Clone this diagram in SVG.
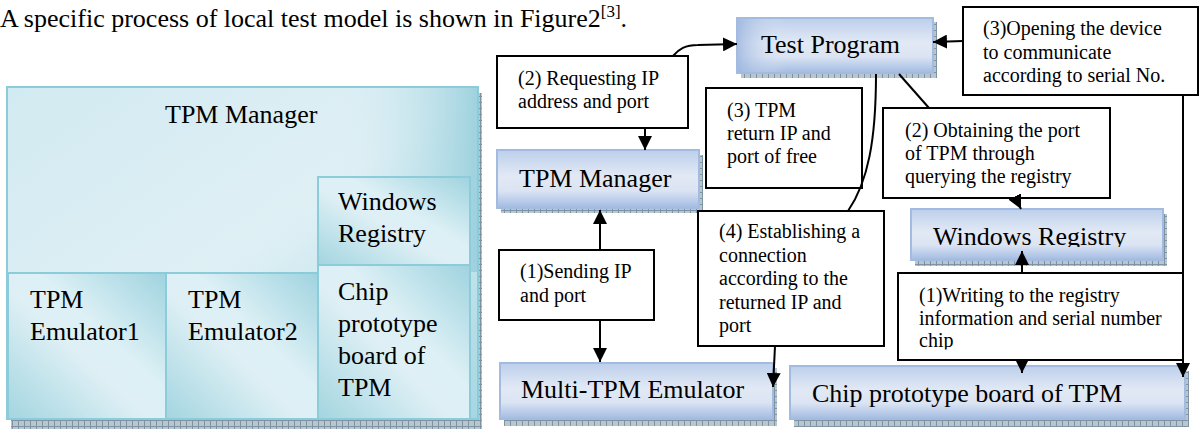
<svg xmlns="http://www.w3.org/2000/svg" width="1199" height="429" viewBox="0 0 1199 429">
  <defs>
    <linearGradient id="gTop" x1="0" y1="0" x2="1" y2="1">
      <stop offset="0" stop-color="#d2eaf1"/>
      <stop offset="0.5" stop-color="#dff0f5"/>
      <stop offset="1" stop-color="#a6d6e1"/>
    </linearGradient>
    <linearGradient id="gTopR" x1="0" y1="0" x2="1" y2="0">
      <stop offset="0" stop-color="#d8edf3" stop-opacity="0"/>
      <stop offset="0.7" stop-color="#d8edf3" stop-opacity="0"/>
      <stop offset="1" stop-color="#98cfdc" stop-opacity="0.9"/>
    </linearGradient>
    <linearGradient id="gSub" x1="0" y1="1" x2="1" y2="0">
      <stop offset="0" stop-color="#a3d5e0"/>
      <stop offset="0.45" stop-color="#dff0f5"/>
      <stop offset="0.6" stop-color="#dcf0f5"/>
      <stop offset="1" stop-color="#9fd3df"/>
    </linearGradient>
    <linearGradient id="gBlue" x1="0" y1="0" x2="0" y2="1">
      <stop offset="0" stop-color="#bccfeb"/>
      <stop offset="0.45" stop-color="#e2e9f5"/>
      <stop offset="0.7" stop-color="#dbe4f3"/>
      <stop offset="1" stop-color="#a2bbe2"/>
    </linearGradient>
    <linearGradient id="gBlueL" x1="0" y1="0" x2="1" y2="0">
      <stop offset="0" stop-color="#9cb6df" stop-opacity="0.8"/>
      <stop offset="0.25" stop-color="#e2e9f5" stop-opacity="0"/>
      <stop offset="1" stop-color="#e2e9f5" stop-opacity="0"/>
    </linearGradient>
    <pattern id="hatch" width="6" height="6" patternUnits="userSpaceOnUse">
      <rect width="6" height="6" fill="#b9c6d0"/>
      <path d="M0,0.5 H6 M0.5,0 V6" stroke="#7f94a3" stroke-width="1"/>
    </pattern>
    <marker id="ah" viewBox="0 0 14 14" refX="14" refY="7" markerWidth="14" markerHeight="14" orient="auto" markerUnits="userSpaceOnUse">
      <path d="M0,0 L14,7 L0,14 z" fill="#000"/>
    </marker>
    <clipPath id="clipWR"><rect x="900" y="200" width="280" height="47"/></clipPath>
    <clipPath id="clipWr1"><rect x="898" y="273" width="285" height="76.5"/></clipPath>
  </defs>
  <style>
    text { font-family: "Liberation Serif", "Times New Roman", serif; fill: #000; }
    .big { font-size: 26px; }
    .sm { font-size: 20px; }
    .lbox { fill: #fff; stroke: #000; stroke-width: 2; }
    .bnode { fill: url(#gBlue); stroke: #a3bbe0; stroke-width: 2; }
    .bshade { fill: url(#gBlueL); }
    .shadow { fill: url(#hatch); }
    .cnode { stroke: #8ccbd9; stroke-width: 2; }
    .conn { fill: none; stroke: #000; stroke-width: 2; }
  </style>

  <g id="intro">
    <text class="big" x="0" y="27">A specific process of local test model is shown in Figure2<tspan font-size="17" dy="-10">[3]</tspan><tspan dy="10">.</tspan></text>
  </g>

  <!-- Left diagram -->
  <g id="left-tpm-manager">
    <rect class="shadow" x="11" y="93" width="471" height="336"/>
    <rect class="cnode" x="7" y="87" width="471" height="332" fill="url(#gTop)"/>
    <rect x="8" y="88" width="469" height="184" fill="url(#gTopR)"/>
    <text class="big" x="165" y="123">TPM Manager</text>
  </g>
  <g id="left-emulator1">
    <rect class="cnode" x="8" y="273" width="158" height="146" fill="url(#gSub)"/>
    <text class="big" x="30" y="308">TPM</text>
    <text class="big" x="30" y="340">Emulator1</text>
  </g>
  <g id="left-emulator2">
    <rect class="cnode" x="166" y="273" width="152" height="146" fill="url(#gSub)"/>
    <text class="big" x="188" y="308">TPM</text>
    <text class="big" x="188" y="340">Emulator2</text>
  </g>
  <g id="left-windows-registry">
    <rect class="cnode" x="318" y="177" width="152" height="88" fill="url(#gSub)"/>
    <text class="big" x="338" y="210">Windows</text>
    <text class="big" x="338" y="242">Registry</text>
  </g>
  <g id="left-chip">
    <rect class="cnode" x="318" y="265" width="152" height="154" fill="url(#gSub)"/>
    <text class="big" x="338" y="300">Chip</text>
    <text class="big" x="338" y="332">prototype</text>
    <text class="big" x="338" y="364">board of</text>
    <text class="big" x="338" y="396">TPM</text>
  </g>

  <!-- Right diagram nodes -->
  <g id="test-program">
    <rect class="shadow" x="741" y="22" width="196" height="56"/>
    <rect class="bnode" x="737" y="18" width="196" height="55"/>
    <rect class="bshade" x="738" y="19" width="194" height="53"/>
    <text class="big" x="761" y="53">Test Program</text>
  </g>
  <g id="tpm-manager">
    <rect class="shadow" x="501" y="155" width="202" height="58"/>
    <rect class="bnode" x="497" y="150" width="202" height="58"/>
    <text class="big" x="519" y="187">TPM Manager</text>
  </g>
  <g id="multi-tpm-emulator">
    <rect class="shadow" x="504" y="368" width="273" height="58"/>
    <rect class="bnode" x="500" y="363" width="273" height="56"/>
    <text class="big" x="521" y="398">Multi-TPM Emulator</text>
  </g>
  <g id="windows-registry">
    <rect class="shadow" x="915" y="214" width="252" height="52"/>
    <rect class="bnode" x="911" y="209" width="252" height="51"/>
    <text class="big" x="933" y="245" clip-path="url(#clipWR)">Windows Registry</text>
  </g>
  <g id="chip-board">
    <rect class="shadow" x="794" y="371" width="395" height="56"/>
    <rect class="bnode" x="790" y="366" width="395" height="53"/>
    <text class="big" x="812" y="402">Chip prototype board of TPM</text>
  </g>

  <!-- Label boxes -->
  <g id="lbl-requesting">
    <rect class="lbox" x="497" y="56" width="191" height="72"/>
    <text class="sm" x="518" y="85">(2) Requesting IP</text>
    <text class="sm" x="518" y="108">address and port</text>
  </g>
  <g id="lbl-return">
    <rect class="lbox" x="706" y="88" width="156" height="100"/>
    <text class="sm" x="727" y="117">(3) TPM</text>
    <text class="sm" x="727" y="140">return IP and</text>
    <text class="sm" x="727" y="163">port of free</text>
  </g>
  <g id="lbl-obtaining">
    <rect class="lbox" x="883" y="108" width="227" height="90"/>
    <text class="sm" x="905" y="137">(2) Obtaining the port</text>
    <text class="sm" x="905" y="160">of TPM through</text>
    <text class="sm" x="905" y="183">querying the registry</text>
  </g>
  <g id="lbl-opening">
    <rect class="lbox" x="963" y="7" width="235" height="88"/>
    <text class="sm" x="983" y="35">(3)Opening the device</text>
    <text class="sm" x="983" y="58.5">to communicate</text>
    <text class="sm" x="983" y="82">according to serial No.</text>
  </g>
  <g id="lbl-sending">
    <rect class="lbox" x="499" y="250" width="155" height="70"/>
    <text class="sm" x="520" y="278">(1)Sending IP</text>
    <text class="sm" x="520" y="302">and port</text>
  </g>
  <g id="lbl-establishing">
    <rect class="lbox" x="698" y="211" width="186" height="135"/>
    <text class="sm" x="719" y="238">(4) Establishing a</text>
    <text class="sm" x="719" y="261.5">connection</text>
    <text class="sm" x="719" y="285">according to the</text>
    <text class="sm" x="719" y="308.5">returned IP and</text>
    <text class="sm" x="719" y="332">port</text>
  </g>
  <g id="lbl-writing">
    <rect class="lbox" x="898" y="273" width="285" height="87"/>
    <g clip-path="url(#clipWr1)">
      <text class="sm" x="919" y="302">(1)Writing to the registry</text>
      <text class="sm" x="919" y="325">information and serial number</text>
      <text class="sm" x="919" y="347">chip</text>
    </g>
  </g>

  <!-- Connectors -->
  <g id="connectors">
    <path class="conn" d="M673,56 C679,49 685,45 698,45 L737,44" marker-end="url(#ah)"/>
    <path class="conn" d="M645,128 L645,150" marker-end="url(#ah)"/>
    <path class="conn" d="M600,250 L600,210" marker-end="url(#ah)"/>
    <path class="conn" d="M600,320 L600,362" marker-end="url(#ah)"/>
    <path class="conn" d="M775,346 L773,387" marker-end="url(#ah)"/>
    <path class="conn" d="M876,74 C876,140 868,182 848,211"/>
    <path class="conn" d="M899,74 L929,108"/>
    <path class="conn" d="M963,41 L933,42" marker-end="url(#ah)"/>
    <path class="conn" d="M1183,95 L1183,377" marker-end="url(#ah)"/>
    <path class="conn" d="M1016,199 L1021,209" marker-end="url(#ah)"/>
    <path class="conn" d="M1022,273 L1022,251" marker-end="url(#ah)"/>
    <path class="conn" d="M1022,360 L1022,373" marker-end="url(#ah)"/>
  </g>
</svg>
